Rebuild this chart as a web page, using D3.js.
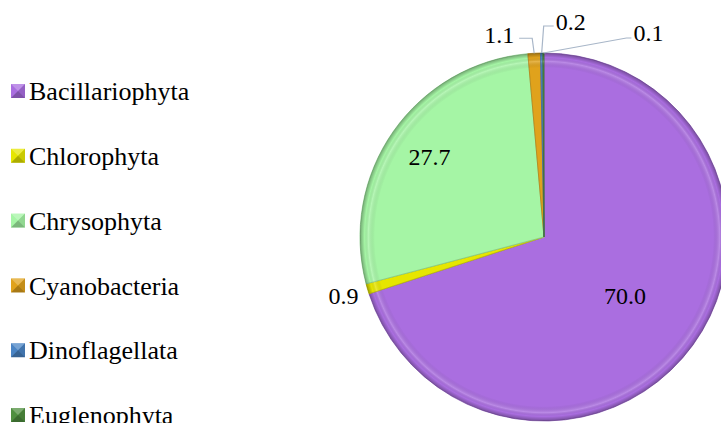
<!DOCTYPE html>
<html>
<head>
<meta charset="utf-8">
<script src="https://cdn.jsdelivr.net/npm/d3@7"></script>
<style>
  html, body { margin: 0; padding: 0; background: #fff; }
  svg text { font-family: "Liberation Serif", "DejaVu Serif", serif; }
</style>
</head>
<body>
<div id="chart"></div>
<script>
const categories = ["Bacillariophyta", "Chlorophyta", "Chrysophyta", "Cyanobacteria", "Dinoflagellata", "Euglenophyta"];
const values = [70.0, 0.9, 27.7, 1.1, 0.2, 0.1];
const colors = ["#aa6ee0", "#e6e600", "#a5f5a5", "#e0a21c", "#4a84c4", "#4f8f3f"];

const width = 721, height = 423;
const cx = 544, cy = 237, radius = 184;
const serif = "'Liberation Serif', 'DejaVu Serif', serif";

const svg = d3.select("#chart").append("svg")
  .attr("width", width)
  .attr("height", height);

const defs = svg.append("defs");

// soft shade toward the rim, for a bevelled look
const rim = defs.append("radialGradient")
  .attr("id", "rim")
  .attr("gradientUnits", "userSpaceOnUse")
  .attr("cx", 0).attr("cy", 0).attr("r", radius);
rim.append("stop").attr("offset", "0.92").attr("stop-color", "#000").attr("stop-opacity", 0);
rim.append("stop").attr("offset", "0.955").attr("stop-color", "#fff").attr("stop-opacity", 0.2);
rim.append("stop").attr("offset", "0.975").attr("stop-color", "#000").attr("stop-opacity", 0.0);
rim.append("stop").attr("offset", "1").attr("stop-color", "#000").attr("stop-opacity", 0.3);

const pie = d3.pie().sort(null).value(d => d)(values);
const arc = d3.arc().innerRadius(0).outerRadius(radius);

const g = svg.append("g").attr("transform", `translate(${cx},${cy})`);

const slices = g.selectAll("g.slice")
  .data(pie)
  .join("g")
  .attr("class", "slice");

slices.append("path")
  .attr("d", arc)
  .attr("fill", (d, i) => colors[i])
  .attr("stroke", (d, i) => d3.color(colors[i]).darker(0.6))
  .attr("stroke-width", 0.8);

slices.append("path")
  .attr("d", arc)
  .attr("fill", "url(#rim)");

// labels
const big = { 0: 100, 2: 140 };
const labels = svg.append("g").attr("font-size", 24).attr("fill", "#000");

pie.forEach((d, i) => {
  const mid = (d.startAngle + d.endAngle) / 2;
  const sx = Math.sin(mid), sy = -Math.cos(mid);
  if (big[i] !== undefined) {
    labels.append("text")
      .attr("font-family", serif)
      .attr("x", cx + sx * big[i])
      .attr("y", cy + sy * big[i])
      .attr("text-anchor", "middle")
      .attr("dy", "0.35em")
      .text(values[i].toFixed(1));
  }
});

// small slices: outside labels with leader lines
const ox = a => cx + Math.sin(a) * radius;
const oy = a => cy - Math.cos(a) * radius;
const leader = "#a8b6c8";
const midOf = d => (d.startAngle + d.endAngle) / 2;

function outside(i, pts, tx, ty, anchor) {
  const a = midOf(pie[i]);
  const x0 = ox(a), y0 = oy(a);
  if (pts) {
    svg.append("polyline")
      .attr("points", [[x0, y0]].concat(pts.map(p => [x0 + p[0], y0 + p[1]])).map(p => p.join(",")).join(" "))
      .attr("fill", "none").attr("stroke", leader).attr("stroke-width", 1.2);
  }
  labels.append("text")
    .attr("font-family", serif)
    .attr("x", x0 + tx).attr("y", y0 + ty)
    .attr("text-anchor", anchor).attr("dy", "0.35em")
    .text(values[i].toFixed(1));
}

outside(1, null, -9, 7, "end");
outside(3, [[-2, -15], [-15, -15]], -20, -19, "end");
outside(4, [[2, -27], [12, -27]], 14, -31, "start");
outside(5, [[83, -15], [88, -15]], 90, -20, "start");

// legend
const legend = svg.append("g").attr("transform", "translate(11,91)");
const rowH = 64.8;
const item = legend.selectAll("g")
  .data(categories)
  .join("g")
  .attr("transform", (d, i) => `translate(0,${i * rowH})`);

item.append("rect")
  .attr("x", 0).attr("y", -7).attr("width", 14).attr("height", 14)
  .attr("fill", (d, i) => colors[i]);
// pyramid bevel on the legend keys
item.append("path")
  .attr("d", "M0,-7 L7,0 L14,-7 Z")
  .attr("fill", "#fff").attr("fill-opacity", 0.25);
item.append("path")
  .attr("d", "M0,7 L7,0 L14,7 Z")
  .attr("fill", "#000").attr("fill-opacity", 0.25);
item.append("path")
  .attr("d", "M14,-7 L7,0 L14,7 Z")
  .attr("fill", "#000").attr("fill-opacity", 0.12);

item.append("text")
  .attr("font-family", serif)
  .attr("x", 18).attr("y", 0).attr("dy", "0.35em")
  .attr("font-size", 26)
  .text(d => d);
</script>
</body>
</html>
